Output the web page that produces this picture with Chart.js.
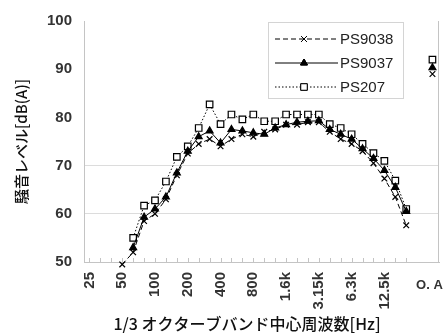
<!DOCTYPE html>
<html>
<head>
<meta charset="utf-8">
<script src="https://cdn.jsdelivr.net/npm/chart.js@4.4.1/dist/chart.umd.min.js"></script>
<style>
  html, body { margin: 0; padding: 0; background: #fff; }
  #wrap { width: 446px; height: 334px; }
</style>
</head>
<body>
<div id="wrap"><canvas id="noiseChart" width="446" height="334"></canvas></div>
<script>
// 1/3 octave band centre frequencies
const bands = ['25', '31.5', '40', '50', '63', '80', '100', '125', '160', '200', '250', '315',
  '400', '500', '630', '800', '1k', '1.25k', '1.6k', '2k', '2.5k', '3.15k', '4k', '5k',
  '6.3k', '8k', '10k', '12.5k', '16k', '20k'];
const tickLabels = ['25', '50', '100', '200', '400', '800', '1.6k', '3.15k', '6.3k', '12.5k'];
const overallLabel = 'O. A';

// band levels dB(A)
const ps9038 = [null, null, null, 49.5, 52.0, 58.5, 60.0, 63.0, 68.0, 72.5, 74.5, 75.5,
  74.0, 75.5, 76.5, 76.0, 77.0, 77.5, 78.5, 78.5, 79.0, 79.0, 77.0, 75.5,
  74.5, 73.0, 70.5, 67.3, 63.5, 57.6];
const ps9037 = [null, null, null, null, 53.0, 59.3, 61.0, 63.5, 68.5, 73.0, 76.0, 77.2,
  74.7, 77.5, 77.2, 76.8, 76.5, 77.8, 78.5, 79.0, 79.2, 79.3, 77.5, 76.5,
  75.5, 73.5, 71.5, 69.0, 65.5, 60.5];
const ps207 = [null, null, null, null, 55.0, 61.7, 62.8, 66.7, 71.8, 74.0, 77.8, 82.7,
  78.6, 80.6, 79.6, 80.6, 79.2, 79.2, 80.6, 80.6, 80.6, 80.6, 78.6, 77.8,
  76.5, 74.5, 72.6, 71.0, 66.9, 61.0];
// overall values (O.A)
const overall = { ps9038: 89.0, ps9037: 90.3, ps207: 92.0 };

const seriesNames = ['PS9038', 'PS9037', 'PS207'];

// O.A sits a little past the last band, with a gap before it
const oaX = bands.length + 1.4;

function toPoints(vals, oa) {
  const pts = vals.map((v, i) => ({ x: i, y: v }));
  pts.push({ x: bands.length, y: null });
  pts.push({ x: oaX, y: oa });
  return pts;
}

const styles = [
  { pointStyle: 'crossRot', pointRadius: 4, dash: [5, 3], bg: '#000' },
  { pointStyle: 'triangle', pointRadius: 4, dash: [], bg: '#000' },
  { pointStyle: 'rect', pointRadius: 4.6, dash: [1.5, 2], bg: '#fff' }
];

const data = {
  datasets: [ps9038, ps9037, ps207].map((vals, k) => ({
    label: seriesNames[k],
    data: toPoints(vals, overall[['ps9038', 'ps9037', 'ps207'][k]]),
    borderColor: '#000',
    borderWidth: 1,
    borderDash: styles[k].dash,
    pointStyle: styles[k].pointStyle,
    pointRadius: styles[k].pointRadius,
    pointBorderColor: '#000',
    pointBackgroundColor: styles[k].bg,
    pointBorderWidth: 1.2,
    spanGaps: false,
    clip: false,
    tension: 0
  }))
};

const FONT = "'Liberation Sans', Arial, sans-serif";
const JFONT = "'Noto Sans CJK JP', sans-serif";

const extras = {
  id: 'extras',
  afterDraw(chart) {
    const { ctx, chartArea: a, scales: { x } } = chart;
    ctx.save();
    // right frame line
    ctx.strokeStyle = '#c4c4c4';
    ctx.lineWidth = 1;
    ctx.beginPath();
    ctx.moveTo(a.right - 0.5, a.top);
    ctx.lineTo(a.right - 0.5, a.bottom);
    ctx.stroke();
    // small inward ticks on the frequency axis
    ctx.beginPath();
    bands.forEach((b, i) => {
      const px = Math.round(x.getPixelForValue(i)) + 0.5;
      ctx.moveTo(px, a.bottom);
      ctx.lineTo(px, a.bottom - 4);
    });
    ctx.stroke();
    // O.A label (horizontal)
    ctx.fillStyle = '#333';
    ctx.font = 'bold 13px ' + FONT;
    ctx.textAlign = 'center';
    ctx.textBaseline = 'middle';
    ctx.fillText(overallLabel, x.getPixelForValue(oaX) - 3, 285);
    // x axis title
    ctx.fillStyle = '#111';
    ctx.font = '500 16px ' + JFONT;
    ctx.fillText('1/3 オクターブバンド中心周波数[Hz]', 247, 324);

    // legend box
    const lx = 268, ly = 22, lw = 135, lh = 76;
    ctx.fillStyle = '#fff';
    ctx.fillRect(lx, ly, lw, lh);
    ctx.strokeStyle = '#d4d4d4';
    ctx.strokeRect(lx + 0.5, ly + 0.5, lw, lh);
    data.datasets.forEach((ds, k) => {
      const yy = ly + 17 + k * 24;
      ctx.strokeStyle = '#000';
      ctx.lineWidth = 1;
      ctx.setLineDash(ds.borderDash);
      ctx.beginPath();
      ctx.moveTo(lx + 7, yy);
      ctx.lineTo(lx + 70, yy);
      ctx.stroke();
      ctx.setLineDash([]);
      ctx.fillStyle = ds.pointBackgroundColor;
      Chart.helpers.drawPoint(ctx, {
        pointStyle: ds.pointStyle, radius: ds.pointRadius, borderWidth: 1, rotation: 0
      }, lx + 36, yy);
      ctx.fill();
      ctx.stroke();
      ctx.fillStyle = '#222';
      ctx.font = '15px ' + FONT;
      ctx.textAlign = 'left';
      ctx.fillText(ds.label, lx + 72, yy + 1);
    });
    ctx.restore();
  }
};

const config = {
  type: 'line',
  data: data,
  options: {
    responsive: false,
    animation: false,
    layout: { padding: { left: 0, right: 7, top: 19, bottom: 0 } },
    plugins: {
      legend: { display: false },
      tooltip: { enabled: false }
    },
    scales: {
      x: {
        type: 'linear',
        min: -0.5,
        max: 32,
        afterBuildTicks: (scale) => {
          scale.ticks = tickLabels.map(l => ({ value: bands.indexOf(l) }));
        },
        afterFit: (scale) => { scale.height = 72; },
        grid: { display: false, drawTicks: false },
        border: { display: true, color: '#c4c4c4' },
        ticks: {
          autoSkip: false,
          minRotation: 90,
          maxRotation: 90,
          padding: 10,
          color: '#333',
          font: { family: FONT, size: 15, weight: 'bold' },
          callback: (v) => bands[v]
        }
      },
      y: {
        min: 50,
        max: 100,
        afterFit: (scale) => { scale.width = 84; },
        ticks: {
          stepSize: 10,
          padding: 12,
          color: '#333',
          font: { family: FONT, size: 15, weight: 'bold' }
        },
        grid: {
          drawTicks: false,
          color: (c) => (c.tick && (c.tick.value === 60 || c.tick.value === 70)) ? '#dcdcdc' : 'rgba(0,0,0,0)'
        },
        border: { display: true, color: '#c4c4c4' },
        title: {
          display: true,
          text: '騒音レベル[dB(A)]',
          color: '#111',
          font: { family: JFONT, size: 15, weight: '500' },
          padding: { top: 12, bottom: 0 }
        }
      }
    }
  },
  plugins: [extras]
};

const noiseChart = new Chart(document.getElementById('noiseChart'), config);
</script>
</body>
</html>
